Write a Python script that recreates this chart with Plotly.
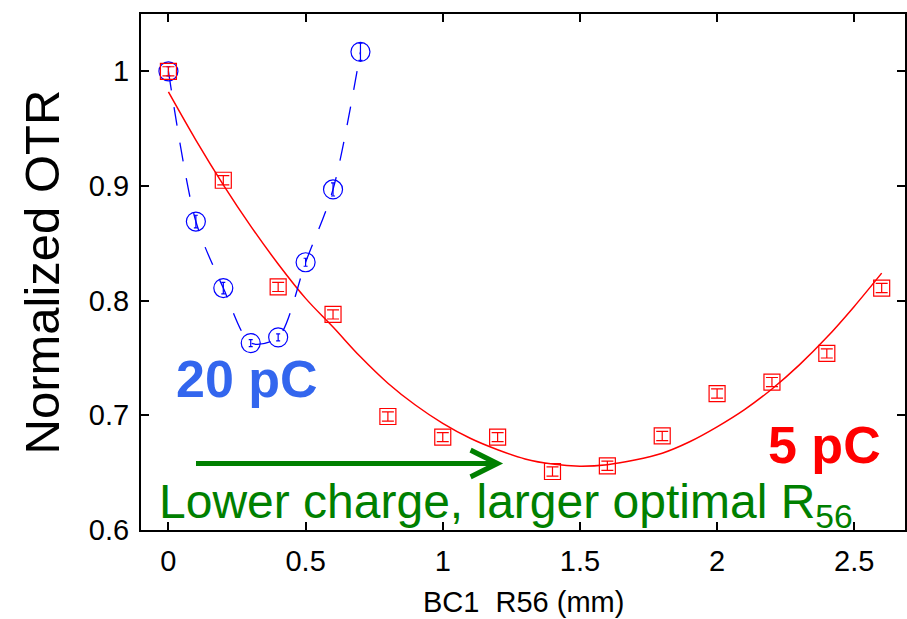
import plotly.graph_objects as go

# 5 pC data (red squares)
x_5pc = [0.0, 0.2, 0.4, 0.6, 0.8, 1.0, 1.2, 1.4, 1.6, 1.8, 2.0, 2.2, 2.4, 2.6]
y_5pc = [1.000, 0.905, 0.812, 0.788, 0.699, 0.681, 0.681, 0.651, 0.656, 0.682, 0.719, 0.729, 0.754, 0.811]
e_5pc = [0.004, 0.004, 0.004, 0.004, 0.004, 0.004, 0.004, 0.004, 0.004, 0.004, 0.004, 0.004, 0.004, 0.004]

# 5 pC fit curve
x_fit = [0.0, 0.1, 0.2, 0.3, 0.4, 0.5, 0.6, 0.7, 0.8, 0.9, 1.0, 1.1, 1.2, 1.3,
         1.4, 1.5, 1.6, 1.7, 1.8, 1.9, 2.0, 2.1, 2.2, 2.3, 2.4, 2.5, 2.6]
y_fit = [0.982, 0.940, 0.901, 0.865, 0.832, 0.802, 0.777, 0.751, 0.728, 0.709, 0.693,
         0.680, 0.670, 0.662, 0.6575, 0.6557, 0.657, 0.661, 0.667, 0.677, 0.690,
         0.705, 0.723, 0.744, 0.768, 0.795, 0.824]

# 20 pC data (blue circles)
x_20pc = [0.0, 0.1, 0.2, 0.3, 0.4, 0.5, 0.6, 0.7]
y_20pc = [1.000, 0.869, 0.811, 0.763, 0.768, 0.8335, 0.897, 1.017]
e_20pc = [0.004, 0.0055, 0.005, 0.003, 0.003, 0.0035, 0.0057, 0.0075]

x_ticks = [0, 0.5, 1, 1.5, 2, 2.5]
x_ticktext = ["0", "0.5", "1", "1.5", "2", "2.5"]
y_ticks = [0.6, 0.7, 0.8, 0.9, 1.0]
y_ticktext = ["0.6", "0.7", "0.8", "0.9", "1"]

RED = "#ff0000"
BLUE = "#0000ff"
GREEN = "#008000"
FONT = "Liberation Sans, Arial, sans-serif"

fig = go.Figure()

fig.add_trace(go.Scatter(
    x=x_fit, y=y_fit, mode="lines", line=dict(color=RED, width=1.5, shape="spline"),
    hoverinfo="skip"))

fig.add_trace(go.Scatter(
    x=x_20pc, y=y_20pc, mode="lines+markers",
    line=dict(color=BLUE, width=1.3, dash="19px,17px", shape="spline", smoothing=0.8),
    marker=dict(symbol="circle-open", size=19, color=BLUE, line=dict(width=1.2, color=BLUE)),
    error_y=dict(type="data", array=e_20pc, color=BLUE, thickness=1.2, width=2)))

fig.add_trace(go.Scatter(
    x=x_5pc, y=y_5pc, mode="markers",
    marker=dict(symbol="square-open", size=16, color=RED, line=dict(width=1.2, color=RED)),
    error_y=dict(type="data", array=e_5pc, color=RED, thickness=1.2, width=6)))

# arrow
fig.add_annotation(x=1.22, y=0.658, ax=0.095, ay=0.658, xref="x", yref="y",
                   axref="x", ayref="y", text="", showarrow=True,
                   arrowhead=5, arrowwidth=5, arrowsize=1.05, arrowcolor=GREEN)

fig.add_annotation(x=0.2865, y=0.732, xref="x", yref="y", text="<b>20 pC</b>",
                   showarrow=False, font=dict(family=FONT, size=52, color="#3366ee"),
                   xanchor="center", yanchor="middle")
fig.add_annotation(x=2.39, y=0.6743, xref="x", yref="y", text="<b>5 pC</b>",
                   showarrow=False, font=dict(family=FONT, size=52, color=RED),
                   xanchor="center", yanchor="middle")
fig.add_annotation(x=-0.04, y=0.6215, xref="x", yref="y",
                   text="Lower charge, larger optimal R<sub>56</sub>",
                   showarrow=False, font=dict(family=FONT, size=48, color=GREEN),
                   xanchor="left", yanchor="middle")

# x-axis title
fig.add_annotation(x=0.5, y=-0.105, xref="paper", yref="paper",
                   text="BC1\u00a0\u00a0R56 (mm)", showarrow=False,
                   font=dict(family=FONT, size=29, color="black"),
                   xanchor="center", yanchor="top")

axis_common = dict(showline=True, linecolor="black", linewidth=2, mirror="allticks",
                   ticks="inside", ticklen=8, tickwidth=1.5, tickcolor="black",
                   showgrid=False, zeroline=False,
                   tickfont=dict(family=FONT, size=29, color="black"))

fig.update_xaxes(range=[-0.1, 2.685], tickvals=x_ticks, ticktext=x_ticktext,
                 ticklabelstandoff=4, **axis_common)
fig.update_yaxes(range=[0.6, 1.05], tickvals=y_ticks, ticktext=y_ticktext,
                 title=dict(text="Normalized OTR", font=dict(family=FONT, size=49, color="black"),
                            standoff=14),
                 ticklabelstandoff=4, **axis_common)

fig.update_layout(width=907, height=619, margin=dict(l=141, r=0, t=14, b=89),
                  plot_bgcolor="white", paper_bgcolor="white", showlegend=False)

fig.write_html("out.html")
